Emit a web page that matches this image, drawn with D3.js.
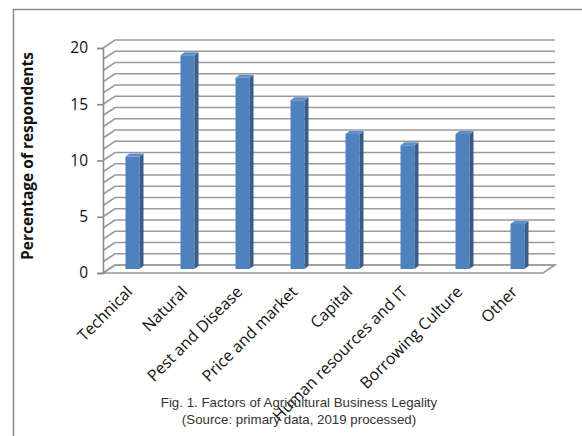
<!DOCTYPE html>
<html>
<head>
<meta charset="utf-8">
<script src="https://cdn.jsdelivr.net/npm/d3@7"></script>
<style>
  body { margin: 0; background: #fff; }
  svg { display: block; }
</style>
</head>
<body>
<div id="canvas"></div>
<script>
var categories = ['Technical', 'Natural', 'Pest and Disease', 'Price and market',
                  'Capital', 'Human resources and IT', 'Borrowing Culture', 'Other'];
var values = [10, 19, 17, 15, 12, 11, 12, 4];
var yTicks = [0, 5, 10, 15, 20];
var yTitle = 'Percentage of respondents';
var caption = ['Fig. 1. Factors of Agricultural Business Legality',
               '(Source: primary data, 2019 processed)'];

var W = 582, H = 436;
var svg = d3.select('#canvas').append('svg')
    .attr('width', W).attr('height', H);

// outer chart frame (runs off the right/bottom of the picture)
svg.append('rect')
    .attr('x', 13.5).attr('y', 9.5)
    .attr('width', 580).attr('height', 440)
    .style('fill', '#fff').style('stroke', '#8c8c8c').style('stroke-width', 1.5);

var x = d3.scaleBand().domain(categories).range([103, 543]);
var y = d3.scaleLinear().domain([0, 20]).range([273, 48]);

// 3d depth offset of the back wall
var dx = 12, dy = -8;

var plot = svg.append('g');

// floor
var y0 = y(0);
plot.append('path')
    .attr('d', 'M' + x.range()[0] + ',' + y0 + 'L' + x.range()[1] + ',' + y0 +
               'L' + (x.range()[1] + dx) + ',' + (y0 + dy) + 'L' + (x.range()[0] + dx) + ',' + (y0 + dy) + 'Z')
    .style('fill', '#fff').style('stroke', '#999').style('stroke-width', 1.6);

// gridlines on side and back wall, one per unit
plot.selectAll('.grid')
    .data(y.ticks(20))
    .enter().append('path').attr('class', 'grid')
    .attr('d', function(d){
        var yy = y(d);
        return 'M' + x.range()[0] + ',' + yy + 'L' + (x.range()[0] + dx) + ',' + (yy + dy) +
               'L' + (x.range()[1] + dx) + ',' + (yy + dy);
    })
    .style('fill', 'none').style('stroke', '#9a9a9a').style('stroke-width', 1.6);

// y axis
var yAxis = plot.append('g')
    .attr('transform', 'translate(' + x.range()[0] + ',0)')
    .call(d3.axisLeft(y).tickValues(yTicks).tickSize(6).tickPadding(9));
yAxis.select('.domain').style('stroke', '#8c8c8c').style('stroke-width', 1.6);
yAxis.selectAll('line').style('stroke', '#8c8c8c').style('stroke-width', 1.6);
yAxis.selectAll('text')
    .style('font-family', 'Open Sans').style('font-size', '15.5px').style('fill', '#111');

// bars
var bw = 14, sd = 4, sdy = 3;
var bars = plot.selectAll('.bar')
    .data(values)
    .enter().append('g').attr('class', 'bar');

function cxOf(i){ return x(categories[i]) + x.bandwidth() / 2 + 2; }

bars.append('rect')
    .attr('x', function(d, i){ return cxOf(i) - bw / 2; })
    .attr('y', function(d){ return y(d) + dy / 2; })
    .attr('width', bw)
    .attr('height', function(d){ return y(0) - y(d); })
    .style('fill', '#4f81bd');

bars.append('path')
    .attr('d', function(d, i){
        var r = cxOf(i) + bw / 2, t = y(d) + dy / 2, b = y(0) + dy / 2;
        return 'M' + r + ',' + t + 'L' + (r + sd) + ',' + (t - sdy) + 'L' + (r + sd) + ',' + (b - sdy) +
               'L' + r + ',' + b + 'Z';
    })
    .style('fill', '#385d8a');

bars.append('path')
    .attr('d', function(d, i){
        var l = cxOf(i) - bw / 2, r = cxOf(i) + bw / 2, t = y(d) + dy / 2;
        return 'M' + l + ',' + t + 'L' + r + ',' + t + 'L' + (r + sd) + ',' + (t - sdy) +
               'L' + (l + sd) + ',' + (t - sdy) + 'Z';
    })
    .style('fill', '#5d8fcc');

// category labels
plot.selectAll('.lab')
    .data(categories)
    .enter().append('text').attr('class', 'lab')
    .attr('transform', function(d, i){
        return 'translate(' + (cxOf(i) - 3) + ',289) rotate(-45)';
    })
    .attr('dy', '0.35em')
    .attr('text-anchor', 'end')
    .style('font-family', 'Open Sans').style('font-size', '16px').style('fill', '#111')
    .text(function(d){ return d; });

// y title
svg.append('text')
    .attr('transform', 'translate(33,156) rotate(-90)')
    .attr('text-anchor', 'middle')
    .style('font-family', 'Open Sans').style('font-weight', 'bold')
    .style('font-size', '15.5px').style('fill', '#111')
    .text(yTitle);

// caption
svg.selectAll('.cap')
    .data(caption)
    .enter().append('text').attr('class', 'cap')
    .attr('x', 299)
    .attr('y', function(d, i){ return 407 + i * 17; })
    .attr('text-anchor', 'middle')
    .style('font-family', 'Liberation Sans').style('font-size', '13.3px').style('fill', '#333')
    .text(function(d){ return d; });
</script>
</body>
</html>
